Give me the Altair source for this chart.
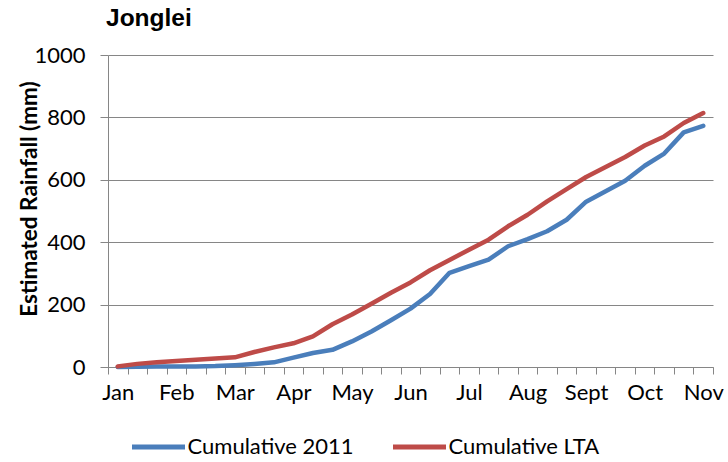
import altair as alt
import pandas as pd

# Month labels (one per three dekads) and cumulative rainfall per dekad, Jan-1 .. Nov-1
months = ["Jan", "Feb", "Mar", "Apr", "May", "Jun", "Jul", "Aug", "Sept", "Oct", "Nov"]
series_names = ["Cumulative 2011", "Cumulative LTA"]
series_colors = ["#4A7EBB", "#BE4B48"]

cumulative_2011 = [0, 1, 2, 2, 2, 3, 6, 10, 15, 30, 45, 55, 82, 114, 150, 187,
                   234, 302, 323, 344, 387, 410, 435, 472, 530, 563, 597, 645,
                   684, 752, 773]
cumulative_lta = [2, 10, 15, 19, 23, 27, 31, 48, 63, 76, 98, 137, 168, 203, 238,
                  271, 310, 343, 376, 408, 451, 488, 531, 570, 609, 641, 673,
                  710, 739, 782, 814]

n_dekads = len(cumulative_2011)

rows = []
for name, values in zip(series_names, [cumulative_2011, cumulative_lta]):
    for i, v in enumerate(values):
        rows.append({"dekad": i + 0.5, "rain": v, "series": name})
df = pd.DataFrame(rows)

month_js = "[" + ",".join(f"'{m}'" for m in months) + "]"
label_expr = (f"datum.value % 3 == 0 && datum.value < {n_dekads} ? "
              f"{month_js}[datum.value / 3] : ''")

W, H = 605, 312
band = W / n_dekads
axis_gray = "#868686"
font = "Lato"

chart = alt.Chart(df).mark_line(
    strokeWidth=4.5, strokeJoin="round", strokeCap="round"
).encode(
    x=alt.X(
        "dekad:Q",
        scale=alt.Scale(domain=[0, n_dekads], nice=False, zero=False),
        axis=alt.Axis(
            values=list(range(n_dekads + 1)),
            labelExpr=label_expr,
            labelOffset=band / 2,
            labelOverlap=False,
            labelFlush=False,
            labelFont=font, labelFontSize=22, labelColor="#000000",
            labelPadding=8,
            tickSize=7, tickColor=axis_gray, tickWidth=1,
            domainColor=axis_gray, domainWidth=1,
            grid=False, title=None,
        ),
    ),
    y=alt.Y(
        "rain:Q",
        scale=alt.Scale(domain=[0, 1000], nice=False),
        axis=alt.Axis(
            values=[0, 200, 400, 600, 800, 1000],
            format="d",
            labelFont=font, labelFontSize=22, labelColor="#000000",
            labelPadding=15,
            tickSize=8, tickColor=axis_gray, tickWidth=1,
            domainColor=axis_gray, domainWidth=1,
            grid=True, gridColor=axis_gray, gridWidth=1,
            title="Estimated Rainfall (mm)",
            titleFont=font, titleFontSize=22.5, titleFontWeight="bold",
            titleColor="#000000",
            titleX=-72, titleY=143.5, titleAngle=270,
            titleAlign="center", titleBaseline="alphabetic",
        ),
    ),
    color=alt.Color(
        "series:N",
        scale=alt.Scale(domain=series_names, range=series_colors),
        legend=alt.Legend(
            title=None, orient="none", direction="horizontal",
            legendX=21.5, legendY=363,
            symbolType="stroke", symbolSize=2809, symbolStrokeWidth=5,
            labelFont=font, labelFontSize=22, labelColor="#000000",
            labelOffset=0, labelLimit=400, columnPadding=28, padding=0,
        ),
    ),
).properties(
    width=W,
    height=H,
    padding={"left": 108, "top": 55, "right": 15, "bottom": 95},
    autosize=alt.AutoSizeParams(type="none"),
    title=alt.Title(
        "Jonglei", anchor="start", frame="group",
        font="Liberation Sans", fontSize=24.5, fontWeight="bold",
        color="#000000", baseline="alphabetic", offset=0, dx=-2, dy=6,
    ),
).configure_view(stroke=None)

chart.save("out.html", embed_options={"renderer": "svg", "actions": False})
